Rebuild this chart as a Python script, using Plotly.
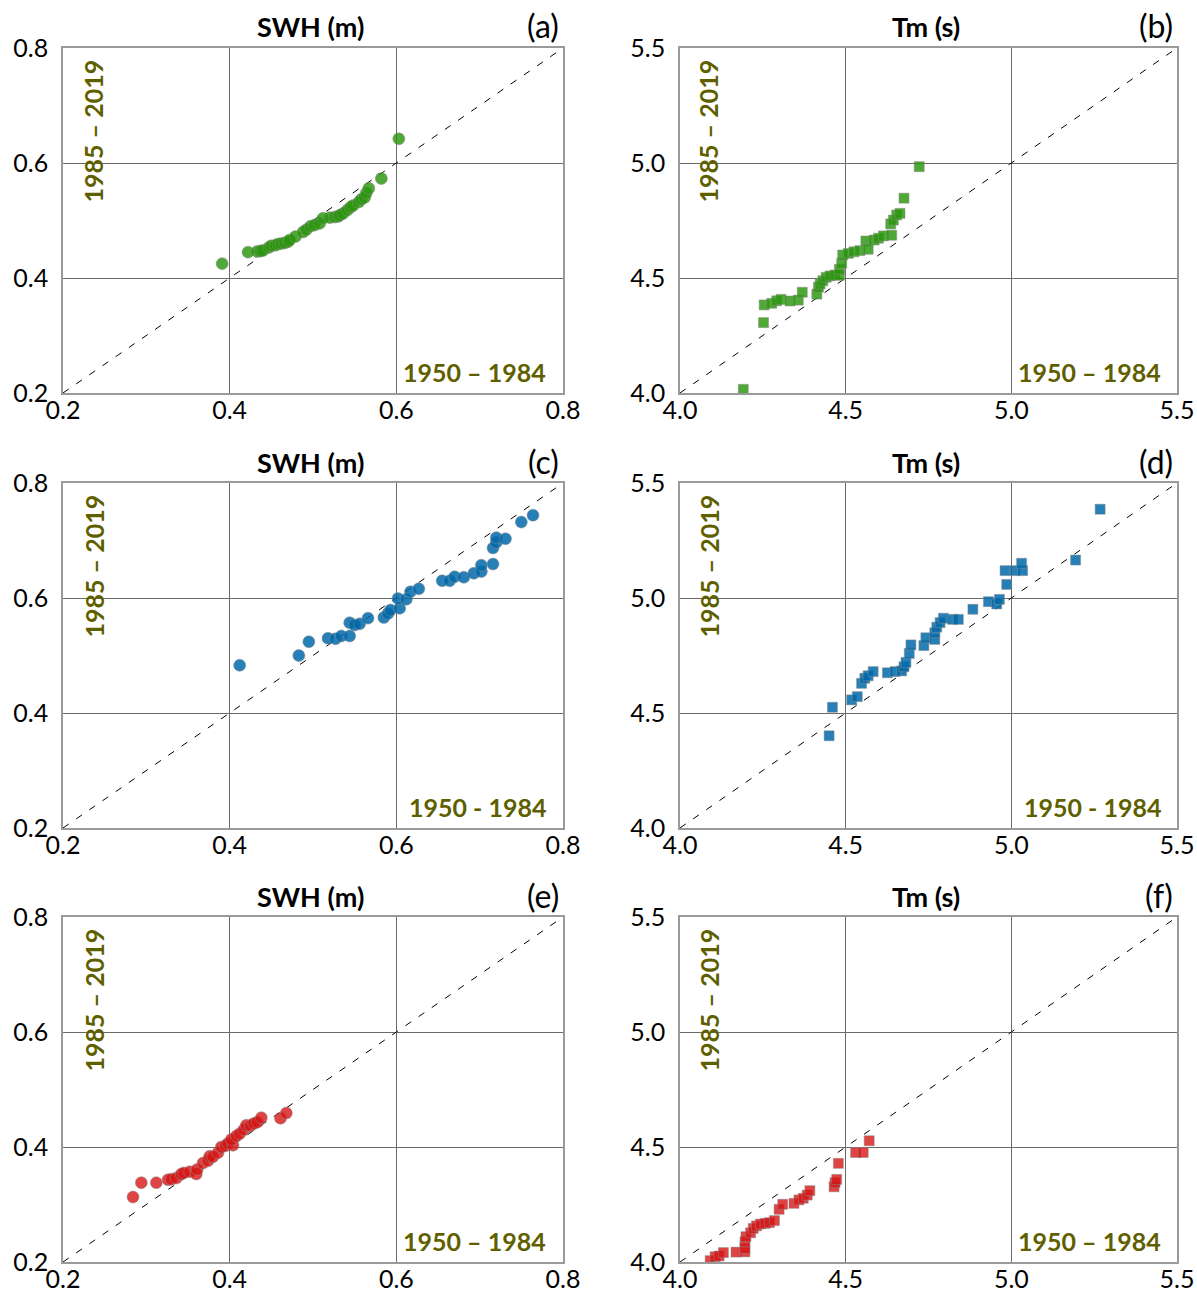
import plotly.graph_objects as go

# ---------------- data ----------------
swh_a_x = [0.391, 0.422, 0.433, 0.437, 0.440, 0.447, 0.450, 0.455, 0.458, 0.462, 0.466, 0.470,
           0.472, 0.479, 0.488, 0.492, 0.497, 0.502, 0.508, 0.512, 0.520, 0.526, 0.530, 0.532,
           0.536, 0.541, 0.545, 0.548, 0.555, 0.558, 0.562, 0.564, 0.567, 0.582, 0.603]
swh_a_y = [0.425, 0.445, 0.446, 0.447, 0.448, 0.453, 0.456, 0.457, 0.459, 0.460, 0.461, 0.463,
           0.466, 0.472, 0.480, 0.484, 0.490, 0.492, 0.495, 0.504, 0.505, 0.506, 0.507, 0.509,
           0.512, 0.518, 0.523, 0.526, 0.532, 0.537, 0.540, 0.548, 0.556, 0.573, 0.642]

tm_b_x = [4.191, 4.252, 4.254, 4.277, 4.292, 4.305, 4.332, 4.357, 4.369, 4.413, 4.418, 4.423,
          4.431, 4.441, 4.453, 4.468, 4.481, 4.481, 4.488, 4.491, 4.508, 4.525, 4.543, 4.561,
          4.568, 4.586, 4.599, 4.614, 4.636, 4.639, 4.644, 4.654, 4.664, 4.676, 4.722]
tm_b_y = [4.016, 4.306, 4.383, 4.390, 4.401, 4.407, 4.400, 4.404, 4.438, 4.430, 4.460, 4.474,
          4.488, 4.503, 4.509, 4.513, 4.512, 4.538, 4.564, 4.600, 4.607, 4.614, 4.619, 4.661,
          4.625, 4.665, 4.673, 4.683, 4.735, 4.686, 4.752, 4.774, 4.781, 4.847, 4.984]

swh_c_x = [0.412, 0.483, 0.495, 0.518, 0.527, 0.534, 0.544, 0.544, 0.550, 0.556, 0.566, 0.585,
           0.590, 0.593, 0.604, 0.602, 0.612, 0.617, 0.627, 0.655, 0.664, 0.670, 0.681, 0.693,
           0.702, 0.702, 0.716, 0.716, 0.720, 0.720, 0.731, 0.750, 0.764]
swh_c_y = [0.483, 0.500, 0.524, 0.530, 0.529, 0.534, 0.534, 0.557, 0.553, 0.555, 0.565, 0.566,
           0.573, 0.579, 0.582, 0.599, 0.598, 0.611, 0.616, 0.630, 0.630, 0.637, 0.636, 0.643,
           0.646, 0.657, 0.659, 0.687, 0.697, 0.705, 0.703, 0.732, 0.744]

tm_d_x = [4.450, 4.460, 4.518, 4.535, 4.548, 4.558, 4.568, 4.583, 4.626, 4.649, 4.669, 4.676,
          4.682, 4.692, 4.697, 4.736, 4.742, 4.769, 4.769, 4.775, 4.785, 4.795, 4.823, 4.840,
          4.884, 4.931, 4.956, 4.964, 4.986, 4.981, 5.011, 5.034, 5.031, 5.194, 5.268]
tm_d_y = [4.401, 4.525, 4.557, 4.571, 4.629, 4.651, 4.662, 4.680, 4.675, 4.680, 4.683, 4.701,
          4.720, 4.759, 4.796, 4.793, 4.827, 4.820, 4.849, 4.873, 4.893, 4.912, 4.907, 4.907,
          4.951, 4.984, 4.974, 4.994, 5.059, 5.119, 5.119, 5.119, 5.151, 5.165, 5.386]

swh_e_x = [0.284, 0.294, 0.312, 0.326, 0.330, 0.336, 0.342, 0.345, 0.352, 0.360, 0.361, 0.368,
           0.374, 0.376, 0.380, 0.386, 0.390, 0.395, 0.398, 0.404, 0.402, 0.408, 0.412, 0.417,
           0.420, 0.425, 0.429, 0.433, 0.438, 0.461, 0.468]
swh_e_y = [0.313, 0.338, 0.338, 0.343, 0.344, 0.346, 0.353, 0.355, 0.357, 0.353, 0.361, 0.372,
           0.376, 0.384, 0.383, 0.390, 0.400, 0.402, 0.406, 0.403, 0.413, 0.419, 0.423, 0.430,
           0.438, 0.437, 0.441, 0.443, 0.451, 0.450, 0.459]

tm_f_x = [4.091, 4.106, 4.118, 4.131, 4.169, 4.196, 4.196, 4.196, 4.199, 4.213, 4.221, 4.231,
          4.243, 4.257, 4.270, 4.285, 4.299, 4.310, 4.344, 4.359, 4.372, 4.384, 4.392, 4.465,
          4.468, 4.473, 4.478, 4.530, 4.553, 4.571]
tm_f_y = [4.006, 4.023, 4.026, 4.041, 4.043, 4.044, 4.059, 4.088, 4.110, 4.127, 4.146, 4.157,
          4.165, 4.168, 4.171, 4.180, 4.229, 4.251, 4.255, 4.270, 4.277, 4.291, 4.310, 4.327,
          4.345, 4.359, 4.429, 4.476, 4.476, 4.527]

swh_ticks = [0.2, 0.4, 0.6, 0.8]
tm_ticks = [4.0, 4.5, 5.0, 5.5]
panel_labels = ["(a)", "(b)", "(c)", "(d)", "(e)", "(f)"]
titles = ["SWH (m)", "Tm (s)"]
label_early = ["1950 – 1984", "1950 – 1984", "1950 - 1984", "1950 - 1984", "1950 – 1984", "1950 – 1984"]
label_late = "1985 – 2019"

# ---------------- layout ----------------
W, H = 1197, 1301
col_px = [(63, 563), (680, 1177)]
row_px = [(48, 393), (483, 828), (917, 1262)]

FONT = "Lato, 'Open Sans', sans-serif"
OLIVE = "#5f5f00"
colors = ["rgba(40,150,10,0.82)", "rgba(0,104,170,0.85)", "rgba(215,20,20,0.8)"]

panels = [
    (swh_a_x, swh_a_y, 0, 0), (tm_b_x, tm_b_y, 0, 1),
    (swh_c_x, swh_c_y, 1, 0), (tm_d_x, tm_d_y, 1, 1),
    (swh_e_x, swh_e_y, 2, 0), (tm_f_x, tm_f_y, 2, 1),
]

fig = go.Figure()
annotations = []
layout_axes = {}

for i, (xs, ys, r, c) in enumerate(panels):
    n = i + 1
    xa = "x" if n == 1 else f"x{n}"
    ya = "y" if n == 1 else f"y{n}"
    ticks = swh_ticks if c == 0 else tm_ticks
    rng = [ticks[0], ticks[-1]]
    x0, x1 = col_px[c]
    y0, y1 = row_px[r]
    xdom = [x0 / W, x1 / W]
    ydom = [1 - y1 / H, 1 - y0 / H]
    pw, ph = x1 - x0, y1 - y0

    # 1:1 reference line
    fig.add_trace(go.Scatter(x=rng, y=rng, mode="lines", xaxis=xa, yaxis=ya,
                             line=dict(color="black", width=1, dash="7px,9px"),
                             hoverinfo="skip", showlegend=False))
    fig.add_trace(go.Scatter(
        x=xs, y=ys, mode="markers", xaxis=xa, yaxis=ya, showlegend=False,
        marker=dict(symbol="circle" if c == 0 else "square",
                    size=12 if c == 0 else 10,
                    color=colors[r],
                    line=dict(color="rgba(140,140,140,0.5)", width=1))))

    common = dict(range=rng, tickvals=ticks, ticktext=[f"{t:.1f}" for t in ticks],
                  showgrid=True, gridcolor="#6a6a6a", gridwidth=1,
                  showline=True, linecolor="#9a9a9a", linewidth=1.5, mirror=True,
                  zeroline=False, ticks="", fixedrange=True, automargin=False,
                  tickfont=dict(family=FONT, size=25, color="black"))
    xkey = "xaxis" if n == 1 else f"xaxis{n}"
    ykey = "yaxis" if n == 1 else f"yaxis{n}"
    layout_axes[xkey] = dict(common, domain=xdom, anchor=ya, ticklabelstandoff=-6)
    layout_axes[ykey] = dict(common, domain=ydom, anchor=xa, ticklabelstandoff=8)

    dref_x = f"{xa} domain"
    dref_y = f"{ya} domain"
    # title
    annotations.append(dict(text=f"<b>{titles[c]}</b>", xref=dref_x, yref=dref_y,
                            x=0.5 - 3 / pw, y=1 + 21 / ph, xanchor="center", yanchor="middle",
                            showarrow=False, font=dict(family=FONT, size=27, color="black")))
    # panel letter
    annotations.append(dict(text=panel_labels[i], xref=dref_x, yref=dref_y,
                            x=1 - 2 / pw, y=1 + 22 / ph, xanchor="right", yanchor="middle",
                            showarrow=False, font=dict(family=FONT, size=32, color="black")))
    # vertical period label
    annotations.append(dict(text=f"<b>{label_late}</b>", xref=dref_x, yref=dref_y,
                            x=30 / pw if c == 0 else 28 / pw, y=1 - 10 / ph,
                            xanchor="center", yanchor="top", textangle=-90,
                            showarrow=False, font=dict(family=FONT, size=25, color=OLIVE)))
    # horizontal period label
    annotations.append(dict(text=f"<b>{label_early[i]}</b>", xref=dref_x, yref=dref_y,
                            x=1 - (15 if c == 0 else 14) / pw, y=21 / ph,
                            xanchor="right", yanchor="middle",
                            showarrow=False, font=dict(family=FONT, size=25, color=OLIVE)))

fig.update_layout(width=W, height=H, margin=dict(l=0, r=0, t=0, b=0),
                  paper_bgcolor="white", plot_bgcolor="white",
                  annotations=annotations, **layout_axes)

fig.write_html("out.html")
